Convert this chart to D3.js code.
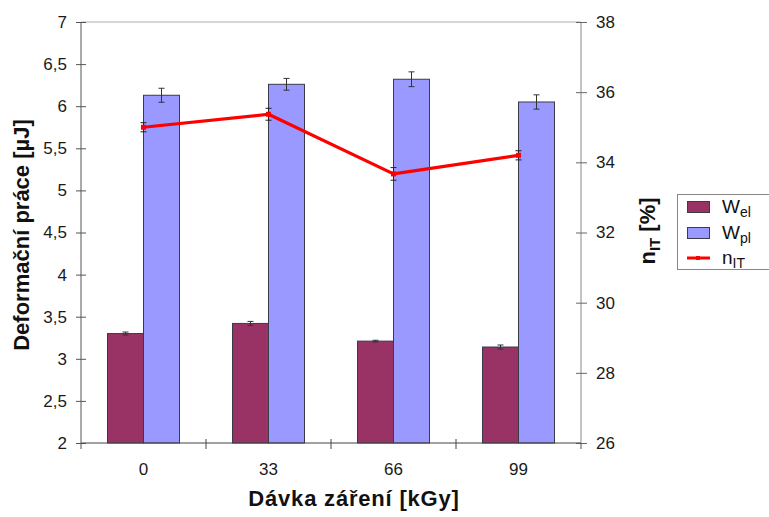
<!DOCTYPE html>
<html><head><meta charset="utf-8">
<script src="https://cdn.jsdelivr.net/npm/d3@7"></script>
<style>body{margin:0;background:#fff}svg{display:block;font-family:"Liberation Sans",Arial,sans-serif}</style>
</head><body>
<script>
const categories = ["0","33","66","99"];
const wel = [3.30, 3.42, 3.21, 3.14];
const welErr = [0.018, 0.024, 0.01, 0.024];
const wpl = [6.13, 6.26, 6.32, 6.05];
const wplErr = [0.083, 0.07, 0.088, 0.085];
const nit = [35.0, 35.37, 33.67, 34.2];
const nitErr = [0.13, 0.17, 0.18, 0.13];
const leftTicks = [2,2.5,3,3.5,4,4.5,5,5.5,6,6.5,7];
const rightTicks = [26,28,30,32,34,36,38];

const W=769,H=517;
const svg=d3.select("body").append("svg").attr("width",W).attr("height",H);
const L=81,R=581,T=22,B=443;
const x=d3.scaleBand().domain(categories).range([L,R]);
const xs=d3.scaleBand().domain(["el","pl"]).range([0,x.bandwidth()]).paddingOuter(0.736);
const yL=d3.scaleLinear().domain([2,7]).range([B,T]);
const yR=d3.scaleLinear().domain([26,38]).range([B,T]);

// top border
svg.append("line").attr("x1",L).attr("x2",R).attr("y1",T).attr("y2",T).attr("stroke","#c8c8c8").attr("stroke-width",1.5);

// bars
const series=[{k:"el",v:wel,e:welErr,c:"#993366"},{k:"pl",v:wpl,e:wplErr,c:"#9999ff"}];
series.forEach(s=>{
  const g=svg.append("g");
  g.selectAll("rect").data(categories).join("rect")
    .attr("x",(d)=>x(d)+xs(s.k)).attr("width",xs.bandwidth())
    .attr("y",(d,i)=>yL(s.v[i])).attr("height",(d,i)=>yL(2)-yL(s.v[i]))
    .attr("fill",s.c).attr("stroke","#3a3a4a").attr("stroke-width",1);
});
// bar error bars
series.forEach(s=>{
  categories.forEach((c,i)=>{
    const cx=x(c)+xs(s.k)+xs.bandwidth()/2;
    const y1=yL(s.v[i]+s.e[i]), y2=yL(s.v[i]-s.e[i]);
    const g=svg.append("g").attr("stroke","#333").attr("stroke-width",1);
    g.append("line").attr("x1",cx).attr("x2",cx).attr("y1",y1).attr("y2",y2);
    g.append("line").attr("x1",cx-3).attr("x2",cx+3).attr("y1",y1).attr("y2",y1);
    g.append("line").attr("x1",cx-3).attr("x2",cx+3).attr("y1",y2).attr("y2",y2);
  });
});

// axes
const axL=svg.append("g").attr("transform",`translate(${L},0)`)
  .call(d3.axisLeft(yL).tickValues(leftTicks).tickSize(5).tickPadding(9).tickFormat(d=>String(d).replace(".",",")));
const axR=svg.append("g").attr("transform",`translate(${R},0)`)
  .call(d3.axisRight(yR).tickValues(rightTicks).tickSize(5).tickPadding(10));
const axB=svg.append("g").attr("transform",`translate(0,${B})`)
  .call(d3.axisBottom(x).tickSize(0).tickPadding(20));
[axL,axR,axB].forEach(a=>{a.selectAll("text").attr("font-size",17).attr("fill","#1a1a1a").attr("font-family","Liberation Sans, Arial, sans-serif");});
axL.select(".domain").attr("stroke","#555").attr("d",`M0,${T}V${B}`);
axR.select(".domain").attr("stroke","#888").attr("d",`M0,${T}V${B}`);
axB.select(".domain").attr("stroke","#444").attr("d",`M${L},0H${R}`);
axL.selectAll(".tick line").attr("x1",5).attr("x2",-5).attr("stroke","#555");
axR.selectAll(".tick line").attr("x1",-5).attr("x2",6).attr("stroke","#666");
// category boundary ticks
const bounds=categories.slice(1).map(c=>x(c));
svg.append("g").selectAll("line").data(bounds).join("line")
  .attr("x1",d=>d).attr("x2",d=>d).attr("y1",B-4).attr("y2",B+6).attr("stroke","#444");
svg.append("g").selectAll("line").data([L,R]).join("line")
  .attr("x1",d=>d).attr("x2",d=>d).attr("y1",B).attr("y2",B+6).attr("stroke","#555");

// nIT line
const cx=c=>x(c)+x.bandwidth()/2;
const line=d3.line().x((d,i)=>cx(categories[i])).y(d=>yR(d));
svg.append("path").datum(nit).attr("d",line).attr("fill","none").attr("stroke","#ff0000").attr("stroke-width",3.2).attr("stroke-linejoin","round");
categories.forEach((c,i)=>{
  const px=cx(c), y1=yR(nit[i]+nitErr[i]), y2=yR(nit[i]-nitErr[i]);
  const g=svg.append("g").attr("stroke","#222").attr("stroke-width",1);
  g.append("line").attr("x1",px).attr("x2",px).attr("y1",y1).attr("y2",y2);
  g.append("line").attr("x1",px-3).attr("x2",px+3).attr("y1",y1).attr("y2",y1);
  g.append("line").attr("x1",px-3).attr("x2",px+3).attr("y1",y2).attr("y2",y2);
  svg.append("rect").attr("x",px-2.5).attr("y",yR(nit[i])-2.5).attr("width",5).attr("height",5).attr("fill","#ff0000");
});

// axis titles
svg.append("text").attr("transform","translate(29,235) rotate(-90)").attr("text-anchor","middle")
  .attr("font-size",22).attr("font-weight","bold").attr("fill","#111").text("Deformační práce [µJ]");
const rt=svg.append("text").attr("transform","translate(655,231) rotate(-90)").attr("text-anchor","middle")
  .attr("font-size",22).attr("font-weight","bold").attr("fill","#111");
rt.append("tspan").text("n");
rt.append("tspan").attr("font-size",15).attr("dy",5).text("IT");
rt.append("tspan").attr("dy",-5).text(" [%]");
svg.append("text").attr("x",354).attr("y",506).attr("text-anchor","middle")
  .attr("font-size",22).attr("font-weight","bold").attr("letter-spacing",0.8).attr("fill","#111").text("Dávka záření [kGy]");

// legend
const lg=svg.append("g");
lg.append("rect").attr("x",677.5).attr("y",194.5).attr("width",100).attr("height",75).attr("fill","#fff").attr("stroke","#888");
const items=[{n:"W",s:"el",c:"#993366",y:207},{n:"W",s:"pl",c:"#9999ff",y:233},{n:"n",s:"IT",c:"#ff0000",y:258,line:true}];
items.forEach(it=>{
  if(it.line){
    lg.append("line").attr("x1",687).attr("x2",710).attr("y1",it.y).attr("y2",it.y).attr("stroke",it.c).attr("stroke-width",3);
    lg.append("rect").attr("x",696).attr("y",it.y-2).attr("width",4).attr("height",4).attr("fill",it.c);
  } else {
    lg.append("rect").attr("x",687.5).attr("y",it.y-5.5).attr("width",22).attr("height",11).attr("fill",it.c).attr("stroke","#3a3a4a");
  }
  const t=lg.append("text").attr("x",722).attr("y",it.y+6).attr("font-size",19).attr("fill","#111");
  t.append("tspan").text(it.n);
  t.append("tspan").attr("font-size",14).attr("dy",4).text(it.s);
});
</script>
</body></html>
